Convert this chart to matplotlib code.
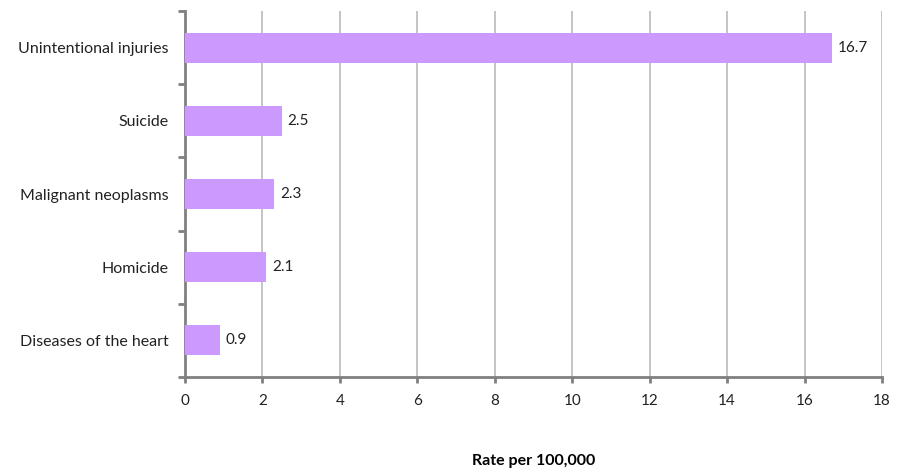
import numpy as np
import matplotlib.pyplot as plt

# causes of death, top to bottom
causes = ['Unintentional injuries', 'Suicide', 'Malignant neoplasms',
          'Homicide', 'Diseases of the heart']
rates = [16.7, 2.5, 2.3, 2.1, 0.9]
xticks = list(range(0, 19, 2))

plt.rcParams['font.family'] = ['Lato', 'DejaVu Sans']

fig = plt.figure(figsize=(9.03, 4.68), dpi=100)
ax = fig.add_axes([0.2049, 0.1944, 0.7718, 0.7821])

pos = np.arange(len(causes))
ax.barh(pos, rates, height=0.41, color='#CC99FF', zorder=3)
for p, r in zip(pos, rates):
    ax.text(r + 0.15, p, f'{r}', va='center', ha='left', fontsize=11,
            color='#222222')

ax.set_ylim(len(causes) - 0.5, -0.5)
ax.set_yticks(pos)
ax.set_yticklabels(causes, fontsize=11.5, color='#222222')
ax.set_yticks(np.arange(-0.5, len(causes)), minor=True)
ax.tick_params(axis='y', which='major', length=0, pad=12)
ax.tick_params(axis='y', which='minor', length=5, width=2, color='#808080',
               direction='out')

ax.set_xlim(0, 18)
ax.set_xticks(xticks)
ax.set_xticklabels([str(t) for t in xticks], fontsize=11, color='#222222')
ax.tick_params(axis='x', length=4, width=2, color='#808080', direction='out',
               pad=8)
ax.xaxis.grid(True, color='#BFBFBF', linewidth=1.3, zorder=0)

for s in ['top', 'right']:
    ax.spines[s].set_visible(False)
for s in ['left', 'bottom']:
    ax.spines[s].set_color('#808080')
    ax.spines[s].set_linewidth(2)

ax.set_xlabel('Rate per 100,000', fontsize=11.5, fontweight='bold',
              labelpad=33)

fig.savefig('out.png', dpi=100)
